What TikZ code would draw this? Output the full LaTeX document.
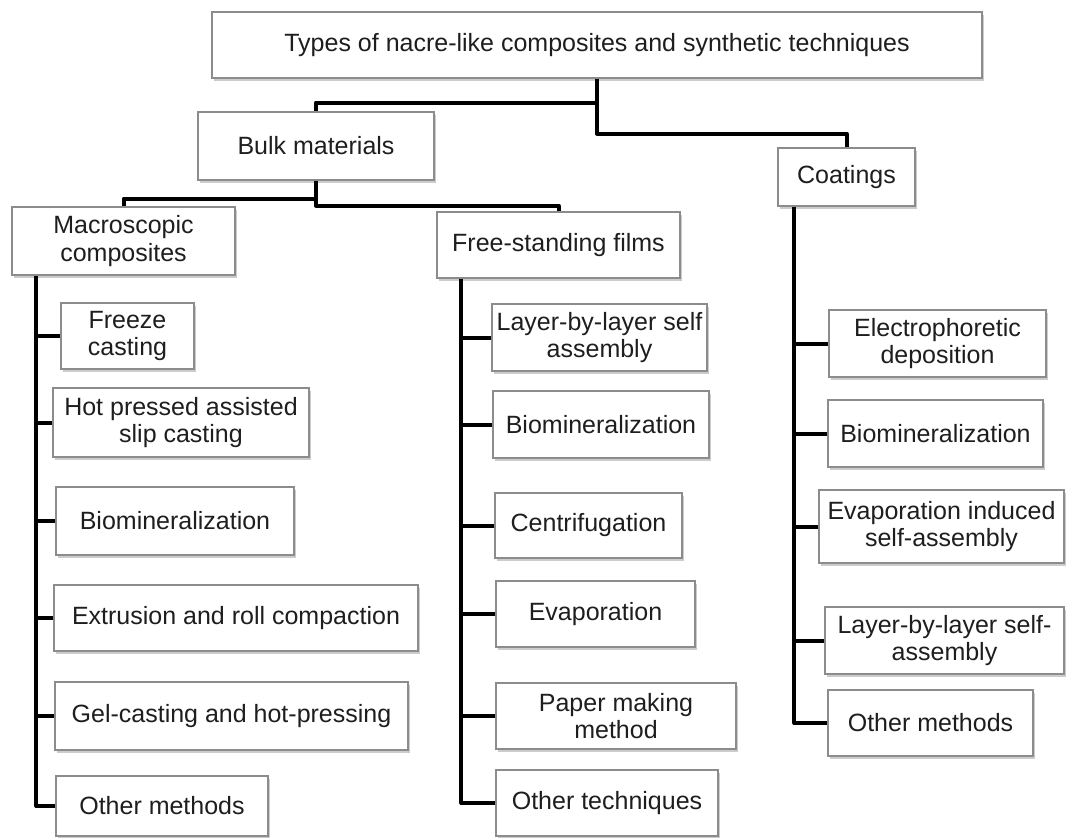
\documentclass[tikz,border=0pt]{standalone}
\usepackage{fontspec}
\setmainfont{Liberation Sans}
\usetikzlibrary{positioning,shadows,calc}
\definecolor{BoxEdge}{RGB}{140,140,140}
\definecolor{InkGrey}{RGB}{30,30,30}

\begin{document}
\begin{tikzpicture}[x=1pt, y=-1pt,
  every node/.style={font=\fontsize{25}{27.5}\selectfont, align=center, text=InkGrey}]
\tikzset{
  box/.style={draw=BoxEdge, line width=1.2pt, fill=white, inner sep=1pt,
    drop shadow={shadow xshift=2pt, shadow yshift=-3pt, fill=black!40}},
  link/.style={line width=4pt, black, line join=round}
}
  \useasboundingbox (0,0) rectangle (1069,838);
  % top levels
  \node[box, minimum width=770pt, minimum height=66pt] (title) at (597,45)
    {Types of nacre-like composites and synthetic techniques};
  \node[box, minimum width=236pt, minimum height=68pt] (bulk) at (316,146) {Bulk materials};
  \node[box, minimum width=137pt, minimum height=58pt] (coat) at (846.5,177) {Coatings};
  \node[box, minimum width=223pt, minimum height=68pt] (macro) at (123.5,241) {Macroscopic\\composites};
  \node[box, minimum width=243pt, minimum height=66pt] (free) at (558.5,245) {Free-standing films};
  % macroscopic composites
  \node[box, minimum width=133pt, minimum height=66pt] (m1) at (127.5,336) {Freeze\\casting};
  \node[box, minimum width=256pt, minimum height=69pt] (m2) at (181,422.5) {Hot pressed assisted\\slip casting};
  \node[box, minimum width=238pt, minimum height=68pt] (m3) at (175,521) {Biomineralization};
  \node[box, minimum width=364pt, minimum height=66pt] (m4) at (236,618) {Extrusion and roll compaction};
  \node[box, minimum width=353pt, minimum height=68pt] (m5) at (231.5,716) {Gel-casting and hot-pressing};
  \node[box, minimum width=212pt, minimum height=60pt] (m6) at (162,806) {Other methods};
  % free-standing films
  \node[box, minimum width=215pt, minimum height=67pt] (f1) at (599.5,337.5) {Layer-by-layer self\\assembly};
  \node[box, minimum width=216pt, minimum height=67pt] (f2) at (601,424.5) {Biomineralization};
  \node[box, minimum width=187pt, minimum height=65pt] (f3) at (588.5,525.5) {Centrifugation};
  \node[box, minimum width=199pt, minimum height=66pt] (f4) at (595.5,614) {Evaporation};
  \node[box, minimum width=240pt, minimum height=66pt] (f5) at (616,716) {Paper making\\method};
  \node[box, minimum width=222pt, minimum height=66pt] (f6) at (607,803) {Other techniques};
  % coatings
  \node[box, minimum width=217pt, minimum height=67pt] (c1) at (937.5,343.5) {Electrophoretic\\deposition};
  \node[box, minimum width=215pt, minimum height=67pt] (c2) at (935.5,433.5) {Biomineralization};
  \node[box, minimum width=245pt, minimum height=73pt] (c3) at (941.5,526.5) {Evaporation induced\\self-assembly};
  \node[box, minimum width=239pt, minimum height=67pt] (c4) at (944.5,640.5) {Layer-by-layer self-\\assembly};
  \node[box, minimum width=205pt, minimum height=66pt] (c5) at (930.5,723) {Other methods};
  % upper connectors
  \draw[link] (title.south) -- ++(0,24) -| (bulk.north);
  \draw[link] (title.south) -- ++(0,55) -| (coat.north);
  \draw[link] (bulk.south) -- ++(0,18) -| (macro.north);
  \draw[link] (bulk.south) -- ++(0,25) -| (free.north);
  % spines
  \coordinate (mspine) at ([xshift=25pt]macro.south west);
  \coordinate (fspine) at ([xshift=25pt]free.south west);
  \coordinate (cspine) at ([xshift=17pt]coat.south west);
  \draw[link] (mspine) |- (m6.west);
  \draw[link] (fspine) |- (f6.west);
  \draw[link] (cspine) |- (c5.west);
  \foreach \n in {m1,m2,m3,m4,m5}
    \draw[link] (\n.west) -- (\n.west -| mspine);
  \foreach \n in {f1,f2,f3,f4,f5}
    \draw[link] (\n.west) -- (\n.west -| fspine);
  \foreach \n in {c1,c2,c3,c4}
    \draw[link] (\n.west) -- (\n.west -| cspine);
\end{tikzpicture}
\end{document}
